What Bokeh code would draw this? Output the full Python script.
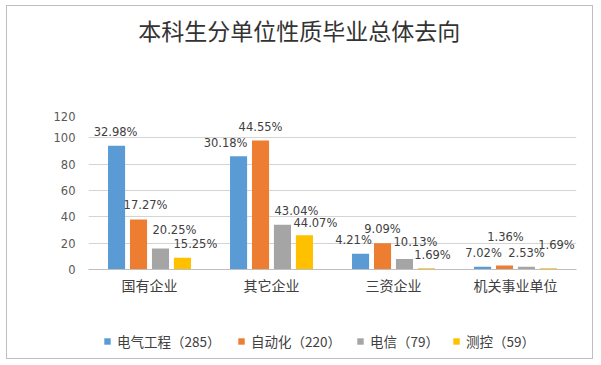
from bokeh.plotting import figure
from bokeh.layouts import column
from bokeh.models import ColumnDataSource, Range1d, FactorRange, FixedTicker, Legend, LegendItem, Label
from bokeh.transform import dodge
from bokeh.core.properties import value
from bokeh.embed import file_html
from bokeh.resources import INLINE

# ---------------- data ----------------
categories = ["国有企业", "其它企业", "三资企业", "机关事业单位"]
series_names = ["电气工程（285）", "自动化（220）", "电信（79）", "测控（59）"]
elec = [94, 86, 12, 2]
auto = [38, 98, 20, 3]
tele = [16, 34, 8, 2]
meas = [9, 26, 1, 1]
elec_pct = ["32.98%", "30.18%", "4.21%", "7.02%"]
auto_pct = ["17.27%", "44.55%", "9.09%", "1.36%"]
tele_pct = ["20.25%", "43.04%", "10.13%", "2.53%"]
meas_pct = ["15.25%", "44.07%", "1.69%", "1.69%"]
y_ticks = [0, 20, 40, 60, 80, 100, 120]
title_text = "本科生分单位性质毕业总体去向"

# ---------------- styles ----------------
colors = ["#5B9BD5", "#ED7D31", "#A5A5A5", "#FFC000"]
offsets = [-0.27, -0.09, 0.09, 0.27]
bar_width = 0.14
label_dx = [[-1, -13, -7, 1], [7, 0, 0, 1], [14, 14, 11, 0], [13, 11, 6, 8]]
label_dy = [[-14, -13, -14, -14], [-14, -13, -14, -29], [-18, -14, -17, -14], [-14, -12, -13, -23]]
legend_margins = [15, 149, 268, 364]

W = 594
LEFT, RIGHT = 88, W - 576


def blank(height):
    f = figure(x_range=Range1d(0, 1), y_range=Range1d(0, 1), width=W, height=height,
               min_border_left=LEFT, min_border_right=RIGHT,
               min_border_top=0, min_border_bottom=0,
               x_axis_type=None, y_axis_type=None,
               output_backend="svg", toolbar_location=None, tools="")
    f.outline_line_color = None
    f.background_fill_color = None
    f.border_fill_color = None
    f.xgrid.visible = False
    f.ygrid.visible = False
    return f


# title strip
pt = blank(111)
pt.add_layout(Label(x=0.432, y=0.737, text=title_text, text_align="center",
                    text_baseline="middle", text_font="Noto Sans CJK SC",
                    text_font_size="23px", text_color="#333333"))

# main chart
p = figure(x_range=FactorRange(factors=categories, range_padding=0),
           y_range=Range1d(0, 120),
           width=W, height=210,
           min_border_left=LEFT, min_border_right=RIGHT,
           min_border_top=0, min_border_bottom=52,
           output_backend="svg", toolbar_location=None, tools="")
p.outline_line_color = None
p.background_fill_color = "white"
p.border_fill_color = None

p.xgrid.grid_line_color = None
p.ygrid.grid_line_color = "#d4d4d4"
p.ygrid.ticker = FixedTicker(ticks=y_ticks)

p.yaxis.ticker = FixedTicker(ticks=y_ticks)
p.yaxis.axis_line_color = None
p.yaxis.major_tick_line_color = None
p.yaxis.minor_tick_line_color = None
p.yaxis.major_tick_out = 0
p.yaxis.major_label_standoff = 13
p.yaxis.major_label_text_font = "DejaVu Sans"
p.yaxis.major_label_text_font_size = "11.5px"
p.yaxis.major_label_text_color = "#595959"

p.xaxis.axis_line_color = "#bfbfbf"
p.xaxis.major_tick_line_color = None
p.xaxis.minor_tick_line_color = None
p.xaxis.major_tick_out = 0
p.xaxis.major_label_standoff = 5
p.xaxis.major_label_text_font = "Noto Sans CJK SC"
p.xaxis.major_label_text_font_size = "14px"
p.xaxis.major_label_text_color = "#404040"

# legend strip
pl = blank(39)

all_vals = [elec, auto, tele, meas]
all_pct = [elec_pct, auto_pct, tele_pct, meas_pct]
for i in range(4):
    src = ColumnDataSource(dict(cat=categories, v=all_vals[i], t=all_pct[i],
                                dx=label_dx[i], dy=label_dy[i]))
    p.vbar(x=dodge("cat", offsets[i], range=p.x_range), top="v", width=bar_width,
           source=src, fill_color=colors[i], line_color=None)
    p.text(x=dodge("cat", offsets[i], range=p.x_range), y="v", text="t",
           x_offset="dx", y_offset="dy", source=src,
           text_align="center", text_baseline="middle",
           text_font=value("DejaVu Sans"), text_font_size="11.5px",
           text_color="#404040")
    key = pl.vbar(x=[0.5], top=[0], width=0, fill_color=colors[i], line_color=None)
    lg = Legend(items=[LegendItem(label=series_names[i], renderers=[key])],
                location="left", orientation="horizontal",
                glyph_width=8, glyph_height=8, label_standoff=6,
                padding=0, margin=legend_margins[i], border_line_color=None,
                background_fill_alpha=0,
                label_text_font="Noto Sans CJK SC", label_text_font_size="13.5px",
                label_text_color="#404040")
    pl.add_layout(lg, "center")

page = column(pt, p, pl, spacing=0)
page.styles = {
    "background-image": ", ".join(["linear-gradient(#bfbfbf, #bfbfbf)"] * 4),
    "background-position": "6px 5px, 6px 5px, 592px 5px, 6px 358px",
    "background-size": "587px 1px, 1px 354px, 1px 354px, 587px 1px",
    "background-repeat": "no-repeat",
}

open("out.html", "w").write(file_html(page, INLINE))
